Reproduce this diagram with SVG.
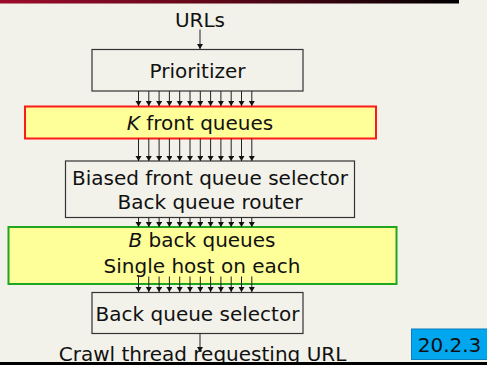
<svg xmlns="http://www.w3.org/2000/svg" width="487" height="365" viewBox="0 0 487 365">
  <defs>
    <linearGradient id="topbar" x1="0" y1="0" x2="1" y2="0">
      <stop offset="0" stop-color="#9e0b2c"/>
      <stop offset="0.5" stop-color="#5a0718"/>
      <stop offset="1" stop-color="#000000"/>
    </linearGradient>
    <marker id="head" markerUnits="userSpaceOnUse" markerWidth="6" markerHeight="7" refX="5" refY="3" orient="auto">
      <path d="M0,0 L5,3 L0,6 Z" fill="#111"/>
    </marker>
  </defs>
  <style>
    text { font-family: "DejaVu Sans", "Liberation Sans", sans-serif; font-size: 20px; fill: #111; text-anchor: middle; }
    .box { fill: none; stroke: #333; stroke-width: 1.2; }
    .front { fill: #ffff99; stroke: #ff1a1a; stroke-width: 2; }
    .back { fill: #ffff99; stroke: #1fa81f; stroke-width: 2; }
    .conn line { stroke: #222; stroke-width: 1; marker-end: url(#head); }
    .tag { fill: #00a6ee; stroke: #0a7fbf; stroke-width: 1; }
  </style>

  <!-- page background and frame bars -->
  <rect x="0" y="0" width="487" height="365" fill="#f2f1ea"/>
  <rect x="0" y="0" width="459" height="3.5" fill="url(#topbar)"/>

  <g id="urls">
    <text x="200" y="26.5">URLs</text>
  </g>

  <g id="prioritizer">
    <rect class="box" x="92" y="49.5" width="211" height="41.5"/>
    <text x="197.5" y="77.5">Prioritizer</text>
  </g>

  <g id="front-queues">
    <rect class="front" x="25" y="106.5" width="351" height="32"/>
    <text x="200" y="130"><tspan font-style="italic">K</tspan> front queues</text>
  </g>

  <g id="front-selector">
    <rect class="box" x="65.5" y="161" width="289" height="56.5"/>
    <text x="210" y="184.5">Biased front queue selector</text>
    <text x="210" y="208.5">Back queue router</text>
  </g>

  <g id="back-queues">
    <rect class="back" x="8.5" y="227" width="388" height="57"/>
    <text x="202" y="247"><tspan font-style="italic">B</tspan> back queues</text>
    <text x="202" y="273">Single host on each</text>
  </g>

  <g id="back-selector">
    <rect class="box" x="92" y="292.5" width="211" height="41"/>
    <text x="197.5" y="320.5">Back queue selector</text>
  </g>

  <g id="crawl-thread">
    <text x="202.5" y="361">Crawl thread requesting URL</text>
  </g>

  <g class="conn" id="connectors">
    <line x1="200" y1="29.5" x2="200" y2="49"/>
    <!-- prioritizer to front queues -->
    <line x1="138.5" y1="91" x2="138.5" y2="106"/>
    <line x1="148.8" y1="91" x2="148.8" y2="106"/>
    <line x1="159.1" y1="91" x2="159.1" y2="106"/>
    <line x1="169.4" y1="91" x2="169.4" y2="106"/>
    <line x1="179.7" y1="91" x2="179.7" y2="106"/>
    <line x1="190.0" y1="91" x2="190.0" y2="106"/>
    <line x1="200.3" y1="91" x2="200.3" y2="106"/>
    <line x1="210.6" y1="91" x2="210.6" y2="106"/>
    <line x1="220.9" y1="91" x2="220.9" y2="106"/>
    <line x1="231.2" y1="91" x2="231.2" y2="106"/>
    <line x1="241.5" y1="91" x2="241.5" y2="106"/>
    <line x1="251.8" y1="91" x2="251.8" y2="106"/>
    <!-- front queues to selector -->
    <line x1="138.5" y1="138.5" x2="138.5" y2="161"/>
    <line x1="148.8" y1="138.5" x2="148.8" y2="161"/>
    <line x1="159.1" y1="138.5" x2="159.1" y2="161"/>
    <line x1="169.4" y1="138.5" x2="169.4" y2="161"/>
    <line x1="179.7" y1="138.5" x2="179.7" y2="161"/>
    <line x1="190.0" y1="138.5" x2="190.0" y2="161"/>
    <line x1="200.3" y1="138.5" x2="200.3" y2="161"/>
    <line x1="210.6" y1="138.5" x2="210.6" y2="161"/>
    <line x1="220.9" y1="138.5" x2="220.9" y2="161"/>
    <line x1="231.2" y1="138.5" x2="231.2" y2="161"/>
    <line x1="241.5" y1="138.5" x2="241.5" y2="161"/>
    <line x1="251.8" y1="138.5" x2="251.8" y2="161"/>
    <!-- router to back queues -->
    <line x1="138.5" y1="217.5" x2="138.5" y2="227"/>
    <line x1="148.8" y1="217.5" x2="148.8" y2="227"/>
    <line x1="159.1" y1="217.5" x2="159.1" y2="227"/>
    <line x1="169.4" y1="217.5" x2="169.4" y2="227"/>
    <line x1="179.7" y1="217.5" x2="179.7" y2="227"/>
    <line x1="190.0" y1="217.5" x2="190.0" y2="227"/>
    <line x1="200.3" y1="217.5" x2="200.3" y2="227"/>
    <line x1="210.6" y1="217.5" x2="210.6" y2="227"/>
    <line x1="220.9" y1="217.5" x2="220.9" y2="227"/>
    <line x1="231.2" y1="217.5" x2="231.2" y2="227"/>
    <line x1="241.5" y1="217.5" x2="241.5" y2="227"/>
    <line x1="251.8" y1="217.5" x2="251.8" y2="227"/>
    <!-- back queues to back queue selector -->
    <line x1="138.5" y1="276.5" x2="138.5" y2="292"/>
    <line x1="148.8" y1="276.5" x2="148.8" y2="292"/>
    <line x1="159.1" y1="276.5" x2="159.1" y2="292"/>
    <line x1="169.4" y1="276.5" x2="169.4" y2="292"/>
    <line x1="179.7" y1="276.5" x2="179.7" y2="292"/>
    <line x1="190.0" y1="276.5" x2="190.0" y2="292"/>
    <line x1="200.3" y1="276.5" x2="200.3" y2="292"/>
    <line x1="210.6" y1="276.5" x2="210.6" y2="292"/>
    <line x1="220.9" y1="276.5" x2="220.9" y2="292"/>
    <line x1="231.2" y1="276.5" x2="231.2" y2="292"/>
    <line x1="241.5" y1="276.5" x2="241.5" y2="292"/>
    <line x1="251.8" y1="276.5" x2="251.8" y2="292"/>
    <!-- selector to crawl thread -->
    <line x1="200" y1="333.5" x2="200" y2="352"/>
  </g>

  <!-- section tag and bottom rule -->
  <g id="section-tag">
    <rect class="tag" x="411.5" y="329" width="76" height="30.5"/>
    <text x="449.5" y="351.5">20.2.3</text>
  </g>
  <rect x="0" y="362" width="487" height="3" fill="#000"/>
</svg>
